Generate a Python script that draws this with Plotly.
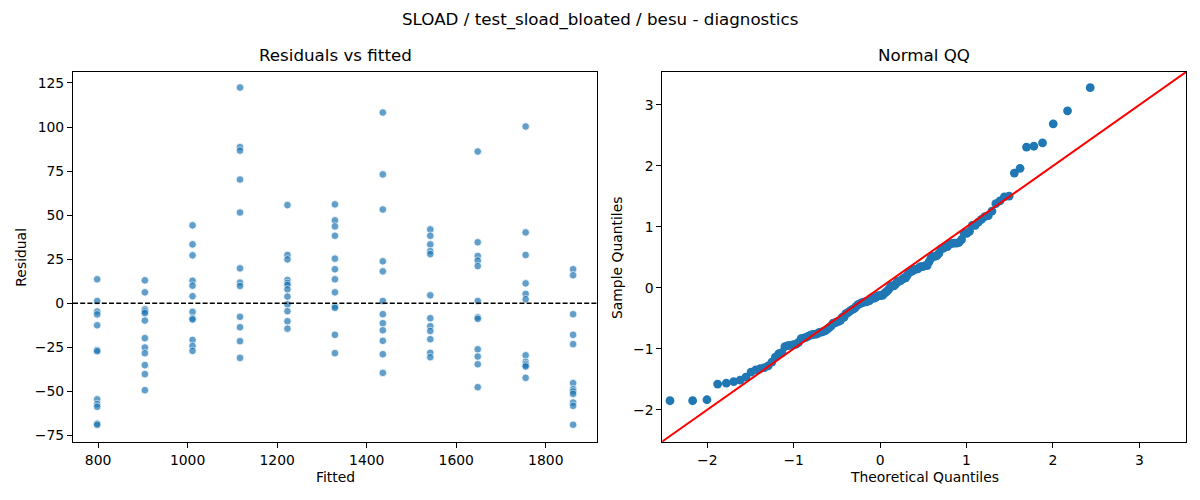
import numpy as np
import plotly.graph_objects as go
from statistics import NormalDist

# fitted value levels (x positions of the vertical columns of residuals)
fitted_levels = [798, 904.5, 1011, 1117, 1223, 1329, 1436, 1542, 1648, 1755, 1861]

# residuals, one list per fitted level
res_798 = [13.6, 1.3, -4.7, -6.3, -12.5, -26.6, -27.2, -54.5, -57.2, -58.7, -68.3, -68.9]
res_904 = [13.0, 6.2, -3.4, -4.6, -5.6, -9.8, -19.8, -25.1, -28.3, -35.1, -40.2, -49.3]
res_1011 = [44.2, 33.4, 27.2, 12.8, 10.0, 4.0, -4.9, -8.5, -9.2, -20.8, -24.2, -27.0]
res_1117 = [122.4, 88.6, 86.6, 70.2, 51.5, 19.8, 11.7, 9.8, -7.7, -13.6, -21.5, -31.0]
res_1223 = [55.7, 27.4, 24.9, 13.2, 11.5, 10.4, 7.9, 3.8, -0.6, -4.5, -10.2, -14.4]
res_1329 = [56.1, 47.0, 43.6, 38.3, 25.3, 19.3, 13.6, 6.2, -1.8, -2.6, -17.9, -28.3]
res_1436 = [108.2, 73.1, 53.2, 23.8, 18.1, 1.3, -6.2, -11.3, -15.3, -21.3, -28.9, -39.5]
res_1542 = [41.9, 38.3, 33.4, 29.6, 27.9, 4.5, -8.5, -13.0, -15.7, -20.4, -28.1, -30.6]
res_1648 = [86.1, 34.6, 26.8, 24.2, 21.1, 1.3, -8.0, -8.8, -26.1, -30.2, -34.6, -47.6]
res_1755 = [100.3, 40.2, 27.4, 11.3, 5.3, 2.3, -29.5, -33.2, -34.4, -35.2, -35.9, -42.3]
res_1861 = [19.3, 15.9, -6.2, -17.9, -23.2, -45.3, -48.7, -50.0, -51.4, -56.3, -58.2, -68.9]

residual_groups = [res_798, res_904, res_1011, res_1117, res_1223, res_1329,
                   res_1436, res_1542, res_1648, res_1755, res_1861]

fitted = []
resid = []
for lvl, grp in zip(fitted_levels, residual_groups):
    fitted += [lvl] * len(grp)
    resid += grp
resid = np.array(resid)

# normal QQ: sorted standardized residuals vs normal quantiles i/(n+1)
n = len(resid)
sample_q = np.sort((resid - resid.mean()) / resid.std(ddof=1))
theo_q = np.array([NormalDist().inv_cdf(i / (n + 1)) for i in range(1, n + 1)])

# ---- layout geometry (page pixels measured on the 1200x500 reference)
# the html body has an 8px margin, so the figure is made 8px smaller and
# all margins are measured from the figure's own corner
OFF = 8
W, H = 1200 - OFF, 500 - OFF
ax_left, ax_right, ax_top, ax_bottom = 73.3, 1185.7, 71.7, 442.3
L, T = ax_left - OFF, ax_top - OFF
R, B = (W + OFF) - ax_right, (H + OFF) - ax_bottom
pw, ph = ax_right - ax_left, ax_bottom - ax_top


def px(x):
    return (x - ax_left) / pw


def py(y):
    return (ax_bottom - y) / ph


left_dom = [0, px(597.3)]
right_dom = [px(662.3), 1]

blue = "#1f77b4"
font = "DejaVu Sans, Liberation Sans, sans-serif"

fig = go.Figure()

fig.add_trace(go.Scatter(
    x=fitted, y=resid, mode="markers",
    marker=dict(color=blue, opacity=0.7, size=7.6,
                line=dict(color="white", width=0.8)),
    xaxis="x", yaxis="y", showlegend=False, hoverinfo="x+y"))

fig.add_trace(go.Scatter(
    x=theo_q, y=sample_q, mode="markers",
    marker=dict(color=blue, size=8.8, line=dict(width=0)),
    xaxis="x2", yaxis="y2", showlegend=False))

qq_xrange = [-2.52, 3.54]
qq_yrange = [-2.53, 3.54]
fig.add_trace(go.Scatter(
    x=[qq_xrange[0] - 0.1, qq_xrange[1] + 0.1],
    y=[qq_xrange[0] - 0.1, qq_xrange[1] + 0.1],
    mode="lines", line=dict(color="red", width=2),
    xaxis="x2", yaxis="y2", showlegend=False, hoverinfo="skip"))

fig.add_shape(type="line", xref="x domain", x0=0, x1=1, yref="y", y0=0, y1=0,
              line=dict(color="black", width=1.3, dash="5px,2.2px"))

axis_style = dict(showline=True, mirror=True, linecolor="black", linewidth=1.1,
                  ticks="outside", ticklen=5, tickwidth=1.1, tickcolor="black",
                  showgrid=False, zeroline=False,
                  tickfont=dict(size=13.9, color="black", family=font))

fig.update_layout(
    width=W, height=H,
    margin=dict(l=L, r=R, t=T, b=B, pad=0),
    paper_bgcolor="white", plot_bgcolor="white",
    font=dict(family=font, color="black"),
    xaxis=dict(domain=left_dom, range=[744, 1915], tickvals=[800, 1000, 1200, 1400, 1600, 1800],
               anchor="y", **axis_style),
    yaxis=dict(range=[-78.7, 131.2], tickvals=[-75, -50, -25, 0, 25, 50, 75, 100, 125],
               anchor="x", **axis_style),
    xaxis2=dict(domain=right_dom, range=qq_xrange, tickvals=[-2, -1, 0, 1, 2, 3],
                anchor="y2", **axis_style),
    yaxis2=dict(range=qq_yrange, tickvals=[-2, -1, 0, 1, 2, 3],
                anchor="x2", **axis_style),
)

ann = [
    ("SLOAD / test_sload_bloated / besu - diagnostics", 600, 19, 16.7, 0),
    ("Residuals vs fitted", 335.3, 55, 16.7, 0),
    ("Normal QQ", 924, 55, 16.7, 0),
    ("Fitted", 335.3, 477, 13.9, 0),
    ("Theoretical Quantiles", 924, 477, 13.9, 0),
    ("Residual", 21, 257, 13.9, -90),
    ("Sample Quantiles", 617, 257, 13.9, -90),
]
for text, x, y, size, angle in ann:
    fig.add_annotation(text=text, x=px(x), y=py(y), xref="paper", yref="paper",
                       xanchor="center", yanchor="middle", showarrow=False,
                       textangle=angle, font=dict(size=size, color="black", family=font))

fig.write_html("out.html")
